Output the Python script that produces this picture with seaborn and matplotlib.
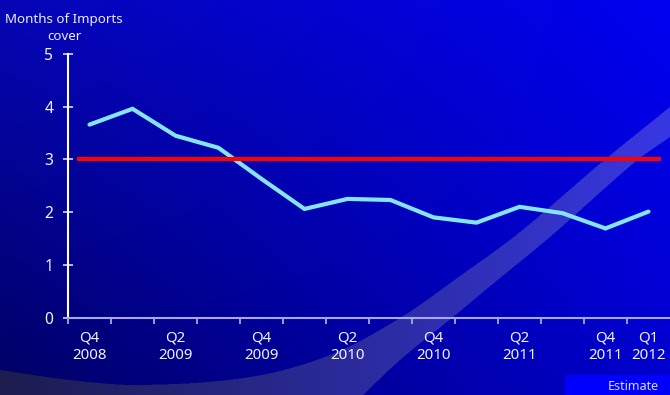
import numpy as np
import pandas as pd
import matplotlib
matplotlib.use("Agg")
import matplotlib.pyplot as plt
import seaborn as sns

# Quarterly reserves, in months of import cover
quarters = ["Q4 2008", "Q1 2009", "Q2 2009", "Q3 2009", "Q4 2009", "Q1 2010", "Q2 2010",
            "Q3 2010", "Q4 2010", "Q1 2011", "Q2 2011", "Q3 2011", "Q4 2011", "Q1 2012"]
import_cover = [3.66, 3.96, 3.45, 3.22, 2.63, 2.06, 2.25, 2.23, 1.90, 1.80, 2.10, 1.98, 1.69, 2.01]
labelled_quarters = ["Q4 2008", "Q2 2009", "Q4 2009", "Q2 2010", "Q4 2010",
                     "Q2 2011", "Q4 2011", "Q1 2012"]
benchmark = 3.0
y_ticks = [0, 1, 2, 3, 4, 5]

W, H = 670, 395

sns.set_theme(style="white")
plt.rcParams["font.family"] = ["Noto Sans", "DejaVu Sans"]

fig = plt.figure(figsize=(W / 100, H / 100), dpi=100)


def smooth_curve(px, py, x):
    """Catmull-Rom interpolation of y(x) through the control points."""
    px = np.asarray(px, float)
    py = np.asarray(py, float)
    n = len(px)
    m = np.zeros(n)
    m[1:-1] = (py[2:] - py[:-2]) / (px[2:] - px[:-2])
    m[0] = (py[1] - py[0]) / (px[1] - px[0])
    m[-1] = (py[-1] - py[-2]) / (px[-1] - px[-2])
    xc = np.clip(x, px[0], px[-1])
    k = np.clip(np.searchsorted(px, xc) - 1, 0, n - 2)
    h = px[k + 1] - px[k]
    t = (xc - px[k]) / h
    h00 = 2 * t**3 - 3 * t**2 + 1
    h10 = t**3 - 2 * t**2 + t
    h01 = -2 * t**3 + 3 * t**2
    h11 = t**3 - t**2
    y = h00 * py[k] + h10 * h * m[k] + h01 * py[k + 1] + h11 * h * m[k + 1]
    return y


# ---- slide background: diagonal blue gradient with a pale swoosh ----
bg = fig.add_axes([0, 0, 1, 1], zorder=0)
ss = 2
xx, yy = np.meshgrid((np.arange(W * ss) + 0.5) / ss, (np.arange(H * ss) + 0.5) / ss)
u, v = xx / W, yy / H


def bilinear(tl, tr, bl, br):
    return tl * (1 - u) * (1 - v) + tr * u * (1 - v) + bl * (1 - u) * v + br * u * v


blue = bilinear(182, 240, 98, 205)
red = bilinear(6, 0, 0, 0)
img = np.stack([red, red, blue], axis=-1)

up_x = [0, 70, 140, 250, 330, 400, 460, 520, 602, 670]
up_y = [370, 380, 385, 377, 355, 318, 276, 232, 162, 107]
lo_x = [363, 400, 453, 500, 550, 635, 670]
lo_y = [395, 360, 317, 278, 237, 162, 137]
upper = smooth_curve(up_x, up_y, xx)
lower = np.where(xx < lo_x[0], 2000, smooth_curve(lo_x, lo_y, xx))
band = (yy > upper) & (yy < lower)
band_rg = 28 + (56 - 28) * u
band_b = 78 + (228 - 78) * u
band_img = np.stack([band_rg, band_rg, band_b], axis=-1)
img[band] = band_img[band]
img = img.reshape(H, ss, W, ss, 3).mean(axis=(1, 3))
bg.imshow(np.clip(img, 0, 255) / 255, extent=[0, W, H, 0], aspect="auto",
          interpolation="bilinear")
bg.set_xlim(0, W)
bg.set_ylim(H, 0)
bg.axis("off")

# ---- chart ----
ax = fig.add_axes([68 / W, 1 - 317.5 / H, (W - 68) / W, (317.5 - 54) / H], zorder=1)
ax.set_facecolor("none")

df = pd.DataFrame({"pos": np.arange(len(quarters)), "cover": import_cover})
sns.lineplot(data=df, x="pos", y="cover", ax=ax, color="#86e4f8", linewidth=3.0,
             solid_capstyle="round", solid_joinstyle="miter", zorder=3)
ax.axhline(benchmark, xmin=(77 - 68) / (W - 68), xmax=(661 - 68) / (W - 68),
           color="#ff0000", linewidth=3.0, solid_capstyle="butt", zorder=4)

ax.set_xlim(-0.5, len(quarters) - 0.5)
ax.set_ylim(0, 5)
ax.set_xlabel("")
ax.set_ylabel("")

ax.set_xticks(np.arange(-0.5, len(quarters) - 1, 1))
ax.set_xticklabels([])
label_pos = [quarters.index(q) for q in labelled_quarters]
ax.set_xticks(label_pos, minor=True)
ax.set_xticklabels([q.replace(" ", "\n") for q in labelled_quarters], minor=True,
                   linespacing=1.25)
ax.tick_params(axis="x", which="major", direction="out", length=4, width=1.3,
               color="#a8a8e6", bottom=True)
ax.tick_params(axis="x", which="minor", length=0, pad=9, labelsize=10.8,
               labelcolor="#f2f2ff", bottom=True)

ax.set_yticks(y_ticks)
ax.set_yticklabels([str(t) for t in y_ticks])
ax.tick_params(axis="y", direction="inout", length=7.2, width=1.3, color="#c8c8ee",
               pad=7, labelsize=11.2, labelcolor="#f2f2ff", left=True)

for side in ("top", "right"):
    ax.spines[side].set_visible(False)
ax.spines["left"].set_color("#ffffff")
ax.spines["left"].set_linewidth(1.5)
ax.spines["bottom"].set_color("#a8a8e6")
ax.spines["bottom"].set_linewidth(1.5)
ax.grid(False)

# ---- axis title and footer ----
fig.text(64 / W, 1 - 19 / H, "Months of Imports", ha="center", va="center",
         fontsize=9.6, color="#ececff")
fig.text(64 / W, 1 - 36 / H, "cover", ha="center", va="center",
         fontsize=9.6, color="#ececff")

fig.patches.append(plt.Rectangle((565 / W, 0), (W - 565) / W, 20 / H,
                                 transform=fig.transFigure, facecolor="#0000ff",
                                 edgecolor="none", zorder=2))
fig.text(633 / W, 1 - 387 / H, "Estimate", ha="center", va="center",
         fontsize=9, color="#d8d8ff", zorder=3)

fig.savefig("out.png", dpi=100)
